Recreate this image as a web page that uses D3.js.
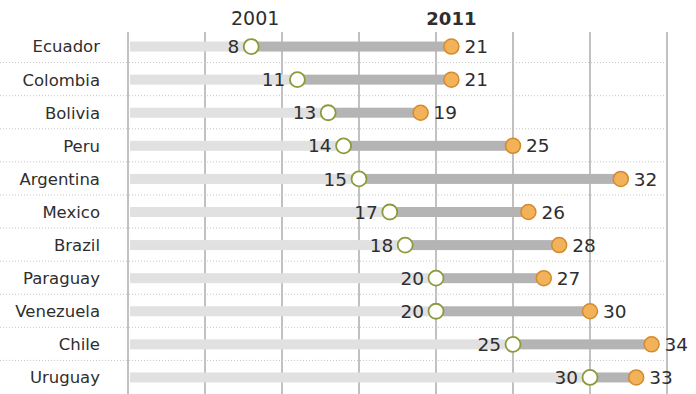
<!DOCTYPE html>
<html>
<head>
<meta charset="utf-8">
<script src="https://cdn.jsdelivr.net/npm/d3@7"></script>
<style>
  body { margin: 0; background: #fff; }
  svg text { font-family: "DejaVu Sans", sans-serif; fill: #2e2e2e; }
</style>
</head>
<body>
<svg id="chart"></svg>
<script>
// data
const countries = ['Ecuador', 'Colombia', 'Bolivia', 'Peru', 'Argentina', 'Mexico',
    'Brazil', 'Paraguay', 'Venezuela', 'Chile', 'Uruguay'];
const values2001 = [8, 11, 13, 14, 15, 17, 18, 20, 20, 25, 30];
const values2011 = [21, 21, 19, 25, 32, 26, 28, 27, 30, 34, 33];
const gridTicks = [0, 5, 10, 15, 20, 25, 30, 35];

const data = countries.map((c, i) => ({ name: c, a: values2001[i], b: values2011[i] }));

const width = 696, height = 394;
const svg = d3.select('#chart')
    .attr('width', width)
    .attr('height', height);

const x = d3.scaleLinear()
    .domain([0, 35])
    .range([128, 667]);

const y = d3.scaleBand()
    .domain(countries)
    .range([30, 394])
    .paddingInner(0)
    .paddingOuter(0);

const cy = d => y(d.name) + y.bandwidth() / 2;

// vertical grid
svg.append('g')
    .selectAll('line')
    .data(gridTicks)
    .join('line')
    .attr('x1', d => x(d)).attr('x2', d => x(d))
    .attr('y1', 32).attr('y2', height)
    .attr('stroke', '#a0a0a0')
    .attr('stroke-width', 1.3);

// dotted row separators
svg.append('g')
    .selectAll('line')
    .data(countries.slice(1))
    .join('line')
    .attr('x1', 0).attr('x2', 668)
    .attr('y1', d => y(d) - 0.5).attr('y2', d => y(d) - 0.5)
    .attr('stroke', '#c4c4c4')
    .attr('stroke-width', 1)
    .attr('stroke-dasharray', '1,2');

const rows = svg.append('g')
    .selectAll('g')
    .data(data)
    .join('g');

// light bar from zero to 2001
rows.append('rect')
    .attr('x', x(0) + 2)
    .attr('y', d => cy(d) - 5)
    .attr('width', d => x(d.a) - x(0) - 2)
    .attr('height', 10)
    .attr('fill', '#e1e1e1');

// darker bar from 2001 to 2011
rows.append('rect')
    .attr('x', d => x(d.a))
    .attr('y', d => cy(d) - 5)
    .attr('width', d => x(d.b) - x(d.a))
    .attr('height', 10)
    .attr('fill', '#b4b4b4');

rows.append('circle')
    .attr('cx', d => x(d.b))
    .attr('cy', cy)
    .attr('r', 7.5)
    .attr('fill', '#f2b25a')
    .attr('stroke', '#d48a2e')
    .attr('stroke-width', 1.5);

rows.append('circle')
    .attr('cx', d => x(d.a))
    .attr('cy', cy)
    .attr('r', 7.5)
    .attr('fill', '#fff')
    .attr('stroke', '#8c9a3c')
    .attr('stroke-width', 1.8);

// value labels
rows.append('text')
    .attr('x', d => x(d.a) - 12)
    .attr('y', cy)
    .attr('dy', '0.36em')
    .attr('text-anchor', 'end')
    .style('font-size', '18.5px')
    .text(d => d.a);

rows.append('text')
    .attr('x', d => x(d.b) + 13)
    .attr('y', cy)
    .attr('dy', '0.36em')
    .style('font-size', '18.5px')
    .text(d => d.b);

// country labels
rows.append('text')
    .attr('x', 100)
    .attr('y', cy)
    .attr('dy', '0.36em')
    .attr('text-anchor', 'end')
    .style('font-size', '16.5px')
    .text(d => d.name);

// column headers above the first row
svg.append('text')
    .attr('x', x(data[0].a) + 4)
    .attr('y', 25)
    .attr('text-anchor', 'middle')
    .style('font-size', '19px')
    .text('2001');

svg.append('text')
    .attr('x', x(data[0].b))
    .attr('y', 25)
    .attr('text-anchor', 'middle')
    .style('font-size', '18px')
    .style('font-weight', 'bold')
    .text('2011');
</script>
</body>
</html>
